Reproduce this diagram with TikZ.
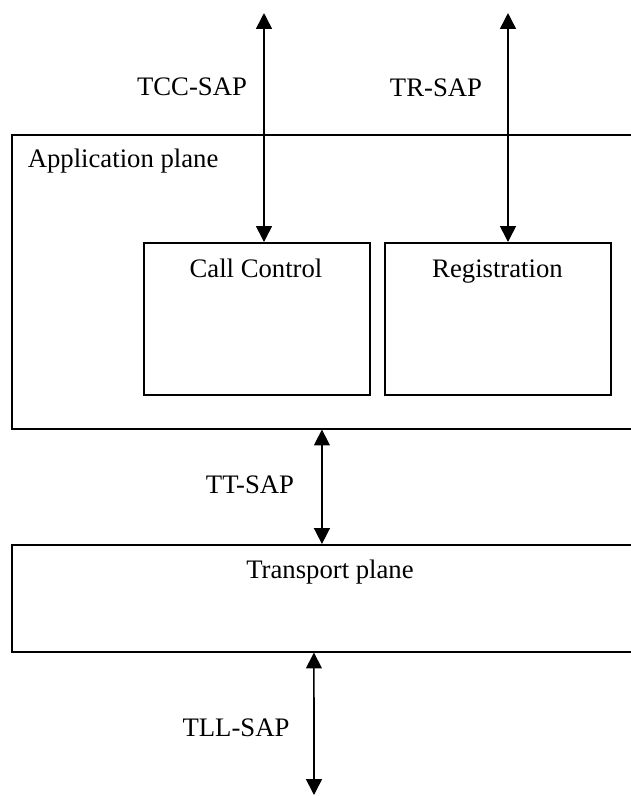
\documentclass[tikz,border=0pt]{standalone}
\usepackage{fontspec}
\setmainfont{Liberation Serif}
\usepackage{tikz}
\usetikzlibrary{arrows.meta, positioning, calc}

\begin{document}
\begin{tikzpicture}[x=0.02cm,y=-0.02cm,line width=0.9pt,
                    >={Triangle[length=9pt,width=9pt]},
                    every node/.style={inner sep=0pt,font=\fontsize{15.2}{18}\selectfont},
                    plane node/.style={rectangle,draw,anchor=north west,minimum width=12.78cm},
                    block node/.style={rectangle,draw,anchor=north west,minimum width=4.53cm,minimum height=3.04cm}]

  \useasboundingbox (0,0) rectangle (631,796);

  % planes and blocks
  \node[plane node,minimum height=5.88cm] (app) at (11,134) {};
  \node[block node] (cc) at (143,242) {};
  \node[block node] (reg) at (384,242) {};
  \node[plane node,minimum height=2.14cm] (trans) at (11,544) {};

  % texts
  \node[anchor=base west] (app label) at (27,167) {Application plane};
  \node[anchor=base] (cc label) at (256,277) {Call Control};
  \node[anchor=base] (reg label) at (497.5,277) {Registration};
  \node[anchor=base] (trans label) at (330,578) {Transport plane};
  \node[anchor=base] (tcc label) at (192,95) {TCC-SAP};
  \node[anchor=base] (tr label) at (436,96) {TR-SAP};
  \node[anchor=base] (tt label) at (250,493) {TT-SAP};
  \node[anchor=base] (tll label) at (236,736) {TLL-SAP};

  % access points
  \coordinate (tcc end) at (264,13);
  \coordinate (tr end) at (508,13);
  \coordinate (tll end) at (314,795);

  \draw[<->] (tcc end) -- (tcc end |- cc.north);
  \draw[<->] (tr end) -- (tr end |- reg.north);
  \draw[<->] ([xshift=6.22cm]app.south west) -- ([xshift=6.22cm]trans.north west);
  \draw[<->] ([xshift=6.06cm]trans.south west) -- (tll end);
\end{tikzpicture}
\end{document}
